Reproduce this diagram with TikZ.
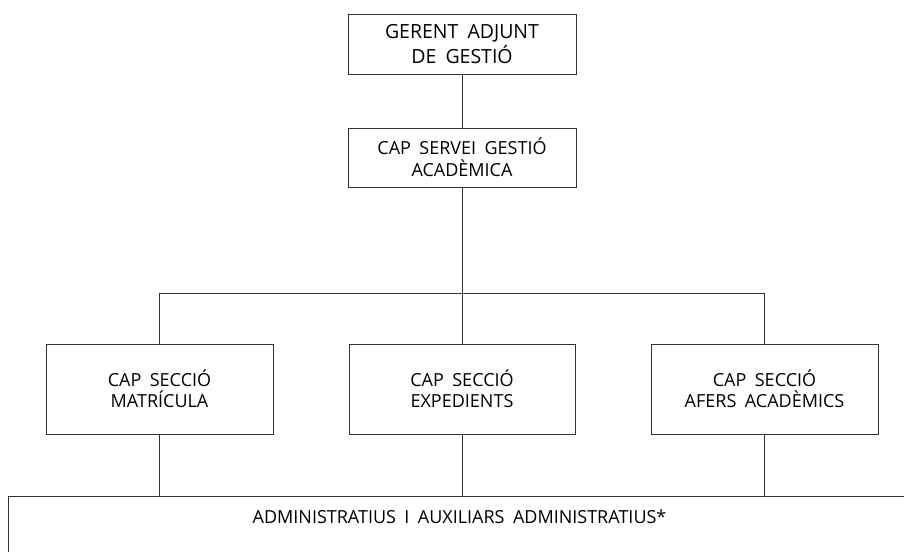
\documentclass[tikz,border=0pt]{standalone}
\usepackage{fontspec}
\setmainfont{Open Sans}[WordSpace=1.8]
\begin{document}
\begin{tikzpicture}[x=1pt,y=-1pt,
  box/.style={draw=black!80, line width=0.9pt, align=center, inner sep=0pt, text=black},
  link/.style={draw=black!80, line width=0.9pt},
  smalltxt/.style={font=\fontsize{18}{21}\selectfont},
  bigtxt/.style={font=\fontsize{19.5}{25}\selectfont}]
\useasboundingbox (0,0) rectangle (904,551);
\clip (0,0) rectangle (904,551);
\node[box, bigtxt, minimum width=228, minimum height=60] (gerent) at (462,44) {GERENT ADJUNT\\DE GESTIÓ};
\node[box, minimum width=228, minimum height=59, font=\fontsize{18}{22}\selectfont] (servei) at (462,157.5) {CAP SERVEI GESTIÓ\\ACADÈMICA};
\node[box, smalltxt, minimum width=227, minimum height=90] (matr) at (159.5,389) {CAP SECCIÓ\\MATRÍCULA};
\node[box, smalltxt, minimum width=226, minimum height=90] (exp) at (462,389) {CAP SECCIÓ\\EXPEDIENTS};
\node[box, smalltxt, minimum width=227, minimum height=90] (afers) at (764.5,389) {CAP SECCIÓ\\AFERS ACADÈMICS};
\node[box, minimum width=910, minimum height=120, anchor=north west] (admin) at (8,496) {};
\node[smalltxt, text=black, inner sep=0pt] (admintext) at (459.5,517) {ADMINISTRATIUS I AUXILIARS ADMINISTRATIUS*};
\coordinate (bar) at (462,293);
\path[link] (gerent.south) -- (servei.north);
\path[link] (servei.south) -- (bar);
\path[link] (matr.north) -- (matr.north |- bar) -- (afers.north |- bar) -- (afers.north);
\path[link] (exp.north) -- (exp.north |- bar);
\path[link] (matr.south) -- (matr.south |- admin.north);
\path[link] (exp.south) -- (exp.south |- admin.north);
\path[link] (afers.south) -- (afers.south |- admin.north);
\end{tikzpicture}
\end{document}
